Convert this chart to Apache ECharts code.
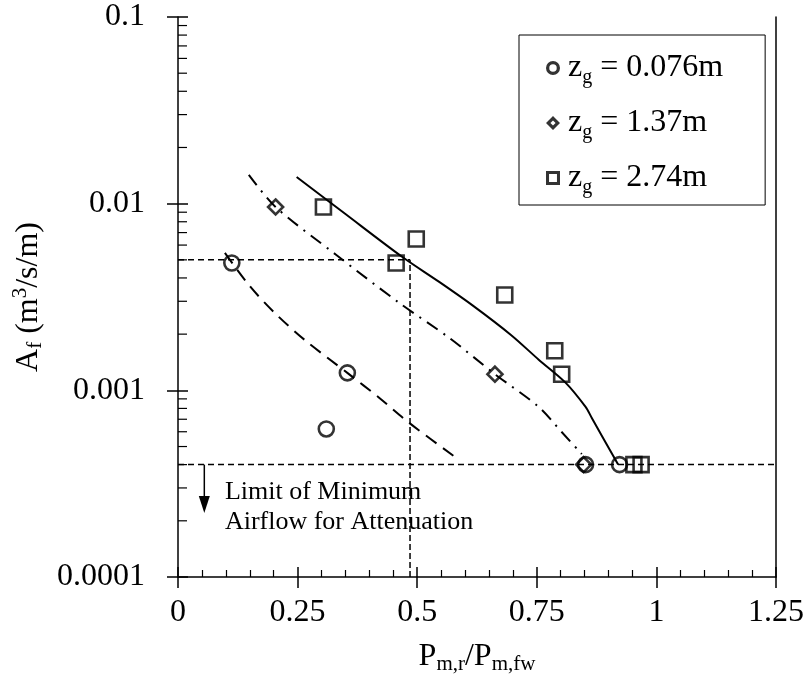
<!DOCTYPE html>
<html>
<head>
<meta charset="utf-8">
<script src="https://cdn.jsdelivr.net/npm/echarts@6/dist/echarts.min.js"></script>
<style>html,body{margin:0;padding:0;background:#fff;}#c{width:807px;height:681px;}</style>
</head>
<body>
<div id="c"></div>
<script>
// ---------- data ----------
const xTickLabels = ['0', '0.25', '0.5', '0.75', '1', '1.25'];
const yTickLabels = ['0.0001', '0.001', '0.01', '0.1'];
const yMinorTicks = [2e-4,3e-4,4e-4,5e-4,6e-4,7e-4,8e-4,9e-4,
                     2e-3,3e-3,4e-3,5e-3,6e-3,7e-3,8e-3,9e-3,
                     2e-2,3e-2,4e-2,5e-2,6e-2,7e-2,8e-2,9e-2];

const seriesNames = ['z_g = 0.076m', 'z_g = 1.37m', 'z_g = 2.74m'];

const xCircle = [0.1125, 0.354, 0.310, 0.852, 0.923];
const yCircle = [0.00481, 0.00124, 0.000621, 0.0004, 0.0004];

const xDiamond = [0.204, 0.6625, 0.848];
const yDiamond = [0.0096, 0.00122, 0.0004];

const xSquare = [0.304, 0.456, 0.498, 0.683, 0.7875, 0.802, 0.953, 0.968];
const ySquare = [0.0096, 0.00481, 0.00647, 0.00324, 0.00163, 0.00122, 0.0004, 0.0004];

// fitted trend curves
const dashX = [0.098, 0.15, 0.202, 0.265, 0.354, 0.421, 0.483, 0.5875];
const dashY = [0.00545, 0.00362, 0.0026, 0.00186, 0.00124, 0.00091, 0.00067, 0.000424];

const dashDotX = [0.148, 0.204, 0.331, 0.4625, 0.567, 0.6625, 0.754, 0.802, 0.844];
const dashDotY = [0.01425, 0.0096, 0.00531, 0.00294, 0.00191, 0.00122, 0.000815, 0.000598, 0.000456];

const solidX = [0.248, 0.35, 0.469, 0.546, 0.615, 0.696, 0.754, 0.810, 0.852, 0.865, 0.92];
const solidY = [0.0139, 0.0088, 0.00518, 0.00381, 0.00286, 0.00198, 0.00146, 0.00110, 0.000815, 0.000711, 0.0004];

// reference lines
const limitY = 0.0004;       // limit of minimum airflow
const guideY = 0.005;        // horizontal guide
const guideX = 0.485;        // vertical guide
const xMin = 0, xMax = 1.25, yMin = 0.0001, yMax = 0.1;

// annotation
const annotLines = ['Limit of Minimum', 'Airflow for Attenuation'];
const annotPos = [0.098, 0.000237];
const arrowData = [0.055, 0.0004, 0.00022];

// ---------- chart ----------
const FONT = "'Liberation Serif', 'Times New Roman', serif";
const zip = (xs, ys) => xs.map((x, i) => [x, ys[i]]);
const chart = echarts.init(document.getElementById('c'), null, {renderer: 'canvas'});

const markerStyle = {color: 'rgba(0,0,0,0)', borderColor: '#000', borderWidth: 2.6};
const axisLine = {show: true, lineStyle: {color: '#000', width: 1.5}};

// outline icons for the legend (ring shapes, filled black)
const ICON_CIRCLE = 'path://M6,0 A6,6 0 1,1 6,12 A6,6 0 1,1 6,0 Z M6,2.8 A3.2,3.2 0 1,0 6,9.2 A3.2,3.2 0 1,0 6,2.8 Z';
const ICON_DIAMOND = 'path://M6,0 L12,6 L6,12 L0,6 Z M6,3.8 L3.8,6 L6,8.2 L8.2,6 Z';
const ICON_SQUARE = 'path://M0,0 H12 V12 H0 Z M2.6,2.6 V9.4 H9.4 V2.6 Z';

const legendRich = {
  z: {fontSize: 32, fontFamily: FONT, color: '#000', lineHeight: 40},
  s: {fontSize: 20, fontFamily: FONT, color: '#000', lineHeight: 22, verticalAlign: 'bottom'},
  t: {fontSize: 32, fontFamily: FONT, color: '#000', lineHeight: 40}
};

const option = {
  animation: false,
  backgroundColor: '#fff',
  grid: {left: 178, right: 30, top: 17, bottom: 104, containLabel: false},
  legend: {
    orient: 'vertical',
    left: 519, top: 35,
    padding: [17, 42, 7, 27],
    itemGap: 19,
    itemWidth: 14, itemHeight: 14,
    borderColor: '#000', borderWidth: 1,
    backgroundColor: '#fff',
    data: [
      {name: seriesNames[0], icon: ICON_CIRCLE, itemStyle: {color: '#000', borderWidth: 0}},
      {name: seriesNames[1], icon: ICON_DIAMOND, itemStyle: {color: '#000', borderWidth: 0}},
      {name: seriesNames[2], icon: ICON_SQUARE, itemStyle: {color: '#000', borderWidth: 0}}
    ],
    formatter: function (name) {
      const rest = name.replace('z_g', '');
      return '{z|z}{s|g}{t|' + rest + '}';
    },
    textStyle: {rich: legendRich, padding: [0, 0, 0, 3]}
  },
  xAxis: [
    {
      type: 'value', position: 'bottom', min: xMin, max: xMax, interval: 0.25,
      axisLine: axisLine,
      axisTick: {show: true, inside: true, length: 10, lineStyle: {color: '#000', width: 1.5}},
      minorTick: {show: true, splitNumber: 5, length: 7, lineStyle: {color: '#000', width: 1.2}},
      splitLine: {show: false},
      axisLabel: {
        fontSize: 32, fontFamily: FONT, color: '#000', margin: 20,
        formatter: function (v) { const k = Math.round(v / 0.25); return xTickLabels[k] ?? ''; }
      },
      name: '{p|P}{s|m,r}{p|/P}{s|m,fw}',
      nameLocation: 'middle', nameGap: 62,
      nameTextStyle: {
        rich: {
          p: {fontSize: 32, fontFamily: FONT, color: '#000', lineHeight: 36},
          s: {fontSize: 21, fontFamily: FONT, color: '#000', lineHeight: 22, verticalAlign: 'bottom'}
        }
      }
    },
    {
      type: 'value', position: 'bottom', min: xMin, max: xMax, interval: 0.25,
      axisLine: {show: false},
      axisTick: {show: true, inside: false, length: 11, lineStyle: {color: '#000', width: 1.5}},
      axisLabel: {show: false}, splitLine: {show: false}
    }
  ],
  yAxis: [
    {
      type: 'log', logBase: 10, position: 'left', min: yMin, max: yMax,
      axisLine: axisLine,
      axisTick: {show: true, inside: true, length: 10, lineStyle: {color: '#000', width: 1.5}},
      splitLine: {show: false},
      axisLabel: {
        fontSize: 32, fontFamily: FONT, color: '#000', margin: 33,
        formatter: function (v) { const k = Math.round(Math.log10(v)) + 4; return yTickLabels[k] ?? ''; }
      },
      name: '{p|A}{s|f}{p| (m}{u|3}{p|/s/m)}',
      nameLocation: 'middle', nameGap: 120,
      nameTextStyle: {
        rich: {
          p: {fontSize: 32, fontFamily: FONT, color: '#000', lineHeight: 36},
          s: {fontSize: 21, fontFamily: FONT, color: '#000', lineHeight: 22, verticalAlign: 'bottom'},
          u: {fontSize: 21, fontFamily: FONT, color: '#000', lineHeight: 22, verticalAlign: 'top'}
        }
      }
    },
    {
      type: 'log', logBase: 10, position: 'left', min: yMin, max: yMax,
      axisLine: {show: false},
      axisTick: {show: true, inside: false, length: 11, lineStyle: {color: '#000', width: 1.5}},
      axisLabel: {show: false}, splitLine: {show: false}
    },
    {
      type: 'log', logBase: 10, position: 'right', min: yMin, max: yMax,
      axisLine: axisLine,
      axisTick: {show: false}, axisLabel: {show: false}, splitLine: {show: false}
    }
  ],
  series: [
    // reference lines
    {type: 'line', data: [[xMin, limitY], [xMax, limitY]], symbol: 'none', silent: true,
     lineStyle: {color: '#000', width: 1.5, type: [6, 4]}, z: 1},
    {type: 'line', data: [[xMin, guideY], [guideX, guideY]], symbol: 'none', silent: true,
     lineStyle: {color: '#000', width: 1.5, type: [6, 4]}, z: 1},
    {type: 'line', data: [[guideX, yMin], [guideX, guideY]], symbol: 'none', silent: true,
     lineStyle: {color: '#000', width: 1.5, type: [6, 3]}, z: 1},
    // trend curves
    {type: 'line', data: zip(dashX, dashY), symbol: 'none', smooth: 0.3, silent: true,
     lineStyle: {color: '#000', width: 2, type: [13, 8]}, z: 2},
    {type: 'line', data: zip(dashDotX, dashDotY), symbol: 'none', smooth: 0.3, silent: true,
     lineStyle: {color: '#000', width: 2, type: [13, 7, 2, 7]}, z: 2},
    {type: 'line', data: zip(solidX, solidY), symbol: 'none', smooth: 0.3, silent: true,
     lineStyle: {color: '#000', width: 2, type: 'solid'}, z: 2},
    // data points
    {name: seriesNames[0], type: 'scatter', data: zip(xCircle, yCircle), symbol: 'circle', symbolSize: 15,
     itemStyle: markerStyle, z: 5},
    {name: seriesNames[1], type: 'scatter', data: zip(xDiamond, yDiamond), symbol: 'diamond', symbolSize: 15,
     itemStyle: markerStyle, z: 5},
    {name: seriesNames[2], type: 'scatter', data: zip(xSquare, ySquare), symbol: 'rect', symbolSize: 15,
     itemStyle: markerStyle, z: 5},
    // minor log ticks on the y axis
    {type: 'custom', data: yMinorTicks.map(v => [xMin, v]), silent: true, clip: false, z: 3,
     renderItem: function (params, api) {
       const p = api.coord([api.value(0), api.value(1)]);
       return {type: 'line', shape: {x1: p[0], y1: p[1], x2: p[0] + 9, y2: p[1]},
               style: {stroke: '#000', lineWidth: 1.2}};
     }},
    // arrow
    {type: 'custom', data: [arrowData], silent: true, clip: false, z: 3,
     renderItem: function (params, api) {
       const a = api.coord([api.value(0), api.value(1)]);
       const b = api.coord([api.value(0), api.value(2)]);
       return {type: 'group', children: [
         {type: 'line', shape: {x1: a[0], y1: a[1], x2: b[0], y2: b[1] - 12}, style: {stroke: '#000', lineWidth: 1.5}},
         {type: 'polygon', shape: {points: [[b[0] - 5.5, b[1] - 17], [b[0] + 5.5, b[1] - 17], [b[0], b[1]]]}, style: {fill: '#000'}}
       ]};
     }},
    // annotation text
    {type: 'custom', data: [annotPos], silent: true, clip: false, z: 3,
     renderItem: function (params, api) {
       const p = api.coord([api.value(0), api.value(1)]);
       return {type: 'text', x: p[0], y: p[1],
               style: {text: annotLines.join('\n'), fill: '#000', font: '26px ' + FONT,
                       align: 'left', verticalAlign: 'middle', lineHeight: 30}};
     }}
  ]
};
chart.setOption(option);
</script>
</body>
</html>
